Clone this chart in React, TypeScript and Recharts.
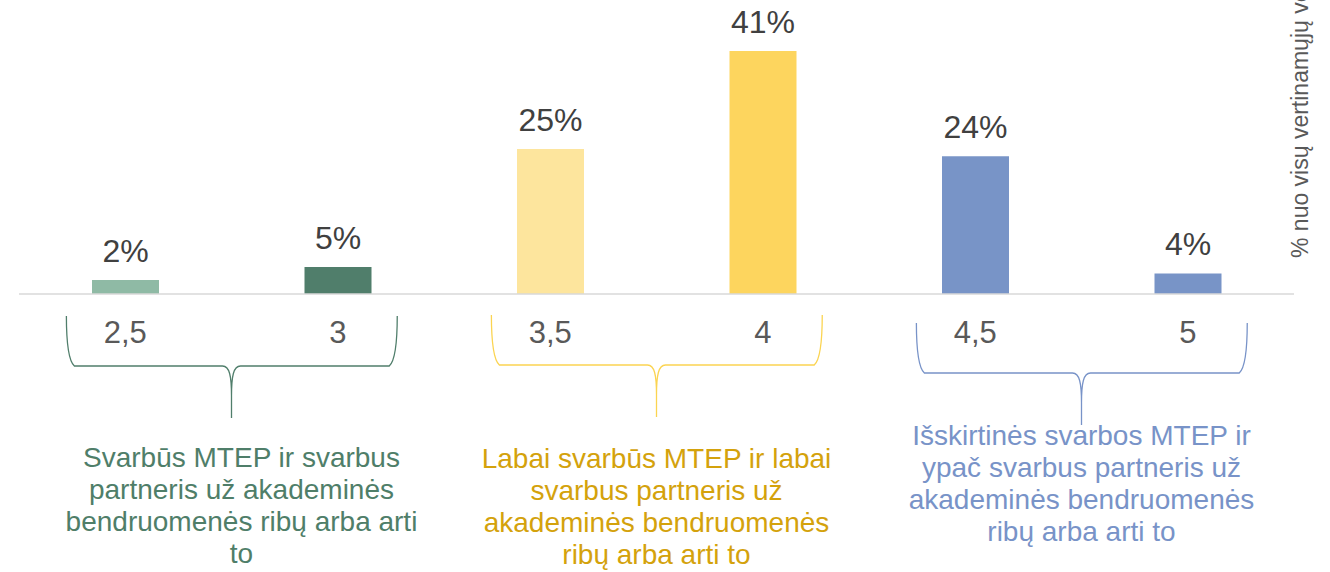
import { BarChart, Bar, XAxis, YAxis, Cell, LabelList, Customized } from 'recharts'

// scores on the x axis and share of all evaluated items (%)
const categories = ['2,5', '3', '3,5', '4', '4,5', '5']
const shares = [2.4, 4.6, 24.7, 41.4, 23.5, 3.5]
const barColors = ['#8fbaa5', '#507e6b', '#fde59d', '#fdd55e', '#7894c7', '#7894c7']

const groupLabels = [
  ['Svarbūs MTEP ir svarbus', 'partneris už akademinės', 'bendruomenės ribų arba arti', 'to'],
  ['Labai svarbūs MTEP ir labai', 'svarbus partneris už', 'akademinės bendruomenės', 'ribų arba arti to'],
  ['Išskirtinės svarbos MTEP ir', 'ypač svarbus partneris už', 'akademinės bendruomenės', 'ribų arba arti to'],
]
const groupTextColors = ['#4f7e69', '#d4a20c', '#7893c8']
const groupBraceColors = ['#507e6b', '#fbd451', '#7893c8']

const axisLabel = '% nuo visų vertinamųjų veiklų'

const data = categories.map((c, i) => ({ score: c, share: shares[i] }))

const WIDTH = 1330
const HEIGHT = 572
const MARGIN = { top: 30, right: 36, bottom: 0, left: 19 }
const XAXIS_H = 278
const BASE = HEIGHT - XAXIS_H
const PLOT_W = WIDTH - MARGIN.left - MARGIN.right
const FONT = '"Liberation Sans", Arial, sans-serif'

// small per-group nudges so braces / captions sit like the original
const braceDy = [0, -1, 7]
const captionY = [173, 174, 151]
const captionDx = [10, 0, 0]

function GroupTick(props: any) {
  const { x, index, payload } = props
  const band = PLOT_W / categories.length
  const out = [
    <text key="t" x={x} y={BASE + 49} textAnchor="middle" fontSize={31} fill="#595959" fontFamily={FONT}>
      {payload.value}
    </text>,
  ]
  if (index % 2 === 0) {
    const g = index / 2
    const L = x - 0.277 * band
    const R = x + band + 0.28 * band
    const mid = x + band / 2
    const top = BASE + 22 + braceDy[g]
    const hy = BASE + 72 + braceDy[g]
    const tip = BASE + 124 + braceDy[g]
    const d =
      `M ${L} ${top} C ${L} ${hy - 30}, ${L + 1} ${hy - 6}, ${L + 8} ${hy} ` +
      `L ${mid - 9} ${hy} C ${mid - 2} ${hy}, ${mid} ${hy + 10}, ${mid} ${hy + 30} L ${mid} ${tip} ` +
      `M ${R} ${top} C ${R} ${hy - 30}, ${R - 1} ${hy - 6}, ${R - 8} ${hy} ` +
      `L ${mid + 9} ${hy} C ${mid + 2} ${hy}, ${mid} ${hy + 10}, ${mid} ${hy + 30}`
    out.push(<path key="b" d={d} fill="none" stroke={groupBraceColors[g]} strokeWidth={1.3} />)
    out.push(
      <text key="c" textAnchor="middle" fontSize={28} fill={groupTextColors[g]} fontFamily={FONT}>
        {groupLabels[g].map((line, i) => (
          <tspan key={i} x={mid + captionDx[g]} y={BASE + captionY[g] + i * 32}>
            {line}
          </tspan>
        ))}
      </text>
    )
  }
  return <g>{out}</g>
}

function ValueLabel(props: any) {
  const { x, y, width, value } = props
  return (
    <text x={x + width / 2} y={y - 18} textAnchor="middle" fontSize={32} fill="#404040" fontFamily={FONT}>
      {Math.round(value) + '%'}
    </text>
  )
}

function SideLabel() {
  const lx = WIDTH - 22
  const ly = 258
  return (
    <text x={lx} y={ly} transform={`rotate(-90 ${lx} ${ly})`} fontSize={23} fill="#595959" fontFamily={FONT}>
      {axisLabel}
    </text>
  )
}

export default function App() {
  return (
    <div style={{ position: 'absolute', left: 0, top: 0, width: WIDTH, height: HEIGHT, background: '#fff', fontFamily: FONT }}>
      <BarChart width={WIDTH} height={HEIGHT} data={data} margin={MARGIN}>
        <XAxis
          dataKey="score"
          height={XAXIS_H}
          interval={0}
          tickLine={false}
          axisLine={{ stroke: '#d9d9d9', strokeWidth: 1.5 }}
          tick={<GroupTick />}
        />
        <YAxis hide domain={[0, 45]} />
        <Bar dataKey="share" barSize={67} isAnimationActive={false}>
          {data.map((_, i) => (
            <Cell key={i} fill={barColors[i]} />
          ))}
          <LabelList dataKey="share" content={<ValueLabel />} />
        </Bar>
        <Customized component={<SideLabel />} />
      </BarChart>
    </div>
  )
}
